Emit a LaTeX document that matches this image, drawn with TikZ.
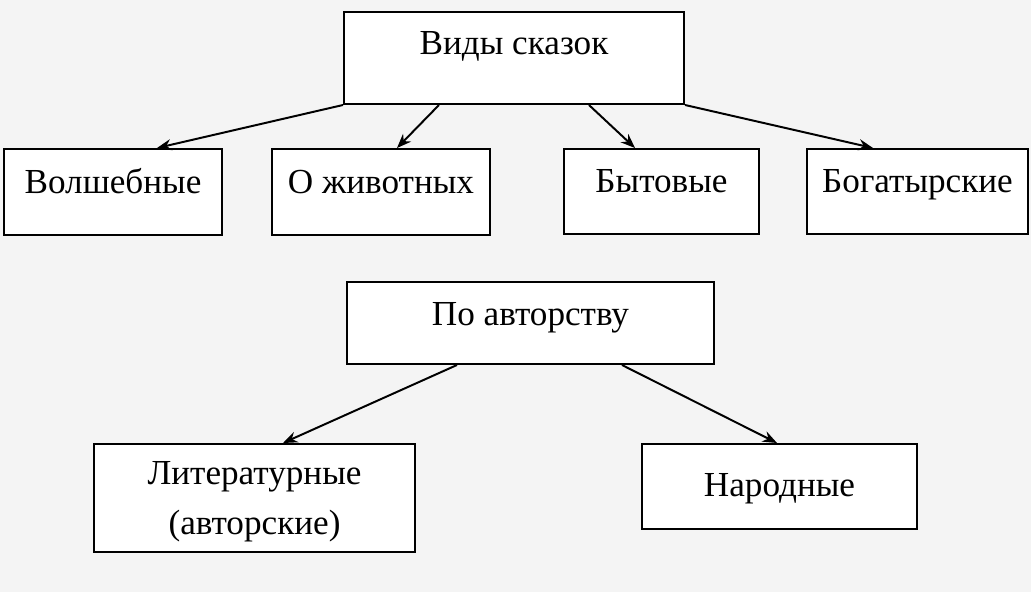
\documentclass[tikz,border=0pt]{standalone}
\usepackage{fontspec}
\setmainfont{Liberation Serif}
\usetikzlibrary{arrows.meta,calc}

\definecolor{bgcol}{RGB}{244,244,244}
\tikzset{
  box/.style={draw, fill=white, line width=1.4pt, inner sep=0pt, font=\fontsize{25}{35}\selectfont, align=center},
  oneline/.style={text height=0.5cm, text depth=#1},
  link/.style={-{Stealth[length=0.36cm,width=0.28cm,inset=0.12cm]}, line width=1.4pt}
}

\begin{document}
\begin{tikzpicture}[x=0.025cm,y=-0.025cm]
\fill[bgcol] (0,0) rectangle (1031,592);
\node[box, oneline=0.65cm, minimum width=8.5cm, minimum height=2.3cm] (vidy) at (514,58) {Виды сказок};
\node[box, oneline=0.45cm, minimum width=5.45cm, minimum height=2.15cm] (volsh) at (113,192) {Волшебные};
\node[box, oneline=0.45cm, minimum width=5.45cm, minimum height=2.15cm] (zhiv) at (381,192) {О животных};
\node[box, oneline=0.45cm, minimum width=4.875cm, minimum height=2.125cm] (byt) at (661.5,191.5) {Бытовые};
\node[box, oneline=0.45cm, minimum width=5.525cm, minimum height=2.125cm] (bogat) at (917.5,191.5) {Богатырские};
\node[box, oneline=0.4cm, minimum width=9.175cm, minimum height=2.05cm] (avtor) at (530.5,323) {По авторству};
\node[box, text depth=0pt, minimum width=8.025cm, minimum height=2.7cm] (lit) at (254.5,498) {Литературные\\(авторские)};
\node[box, oneline=0cm, minimum width=6.875cm, minimum height=2.125cm] (narod) at (779.5,486.5) {Народные};
% arrows
\draw[link] (vidy.south west) -- ($(volsh.north)+(44,0)$);
\draw[link] ($(vidy.south west)+(96,0)$) -- ($(zhiv.north)+(16,0)$);
\draw[link] ($(vidy.south west)+(246,0)$) -- ($(byt.north)+(-26.5,0)$);
\draw[link] (vidy.south east) -- ($(bogat.north)+(-44.5,0)$);
\draw[link] ($(avtor.south west)+(111,0)$) -- ($(lit.north)+(28.5,0)$);
\draw[link] ($(avtor.south west)+(276,0)$) -- ($(narod.north)+(-2.5,0)$);
\end{tikzpicture}
\end{document}
